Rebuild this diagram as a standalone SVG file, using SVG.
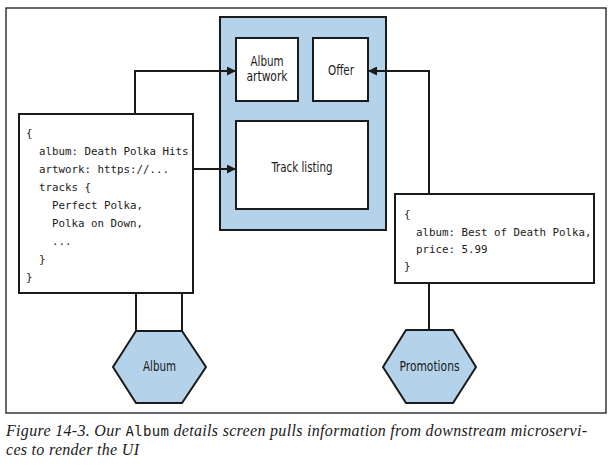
<svg xmlns="http://www.w3.org/2000/svg" width="610" height="467" viewBox="0 0 610 467">
<defs>
<style>
.frame{fill:#fff;stroke:#2a2a2a;stroke-width:1.4}
.box{fill:#fff;stroke:#1a1a1a;stroke-width:2}
.blue{fill:#b4d3ea;stroke:#1a1a1a;stroke-width:2}
.conn{fill:none;stroke:#1a1a1a;stroke-width:2}
.lbl{font-family:"DejaVu Sans Condensed","Liberation Sans",sans-serif;font-size:14px;fill:#1a1a1a;text-anchor:middle}
.code{font-family:"DejaVu Sans Mono","Liberation Mono",monospace;font-size:10.8px;fill:#1a1a1a}
.cap{font-family:"Liberation Serif",serif;font-style:italic;font-size:16px;fill:#1a1a1a}
.capmono{font-family:"DejaVu Sans Mono","Liberation Mono",monospace;font-style:normal;font-size:14px}
</style>
<marker id="arrow" viewBox="0 0 10 10" refX="10" refY="5" markerWidth="9" markerHeight="9" markerUnits="userSpaceOnUse" orient="auto">
<path d="M0,0 L10,5 L0,10 z" fill="#1a1a1a"/>
</marker>
</defs>
<rect class="frame" x="6" y="8" width="600" height="405"/>

<g id="screen">
<rect class="blue" x="220" y="17" width="166" height="213"/>
</g>
<g id="album-artwork">
<rect class="box" x="236" y="38" width="62" height="63"/>
<text class="lbl" x="267" y="66" textLength="33" lengthAdjust="spacingAndGlyphs">Album</text>
<text class="lbl" x="267" y="81" textLength="41" lengthAdjust="spacingAndGlyphs">artwork</text>
</g>
<g id="offer">
<rect class="box" x="313" y="38" width="55" height="63"/>
<text class="lbl" x="341" y="75" textLength="26" lengthAdjust="spacingAndGlyphs">Offer</text>
</g>
<g id="track-listing">
<rect class="box" x="236" y="121" width="132" height="88"/>
<text class="lbl" x="302" y="172" textLength="61" lengthAdjust="spacingAndGlyphs">Track listing</text>
</g>

<g id="connectors">
<path class="conn" d="M135,114 V71 H236" marker-end="url(#arrow)"/>
<path class="conn" d="M193,169 H236" marker-end="url(#arrow)"/>
<path class="conn" d="M429,194 V71 H368" marker-end="url(#arrow)"/>
<path class="conn" d="M136,293 V331 M182,293 V331"/>
<path class="conn" d="M429,283 V330"/>
</g>

<g id="album-json">
<rect class="box" x="19" y="114" width="174" height="179"/>
<text class="code" x="26" y="137">{</text>
<text class="code" x="39" y="155">album: Death Polka Hits</text>
<text class="code" x="39" y="173">artwork: https://...</text>
<text class="code" x="39" y="191">tracks {</text>
<text class="code" x="52" y="209">Perfect Polka,</text>
<text class="code" x="52" y="227">Polka on Down,</text>
<text class="code" x="52" y="245">...</text>
<text class="code" x="39" y="263">}</text>
<text class="code" x="26" y="281">}</text>
</g>

<g id="promo-json">
<rect class="box" x="395" y="194" width="199" height="89"/>
<text class="code" x="404" y="218">{</text>
<text class="code" x="416" y="236">album: Best of Death Polka,</text>
<text class="code" x="416" y="253">price: 5.99</text>
<text class="code" x="404" y="270">}</text>
</g>

<g id="album-service">
<polygon class="blue" points="136,331 182,331 206,367 182,403 136,403 113,367"/>
<text class="lbl" x="159.5" y="371" textLength="33" lengthAdjust="spacingAndGlyphs">Album</text>
</g>
<g id="promotions-service">
<polygon class="blue" points="406,330 453,330 476,367 453,403 406,403 383,367"/>
<text class="lbl" x="429.5" y="371" textLength="60" lengthAdjust="spacingAndGlyphs">Promotions</text>
</g>

<g id="caption">
<text class="cap" x="6" y="436" textLength="581" lengthAdjust="spacing">Figure 14-3. Our <tspan class="capmono">Album</tspan> details screen pulls information from downstream microservi-</text>
<text class="cap" x="6" y="455" textLength="133" lengthAdjust="spacing">ces to render the UI</text>
</g>
</svg>
